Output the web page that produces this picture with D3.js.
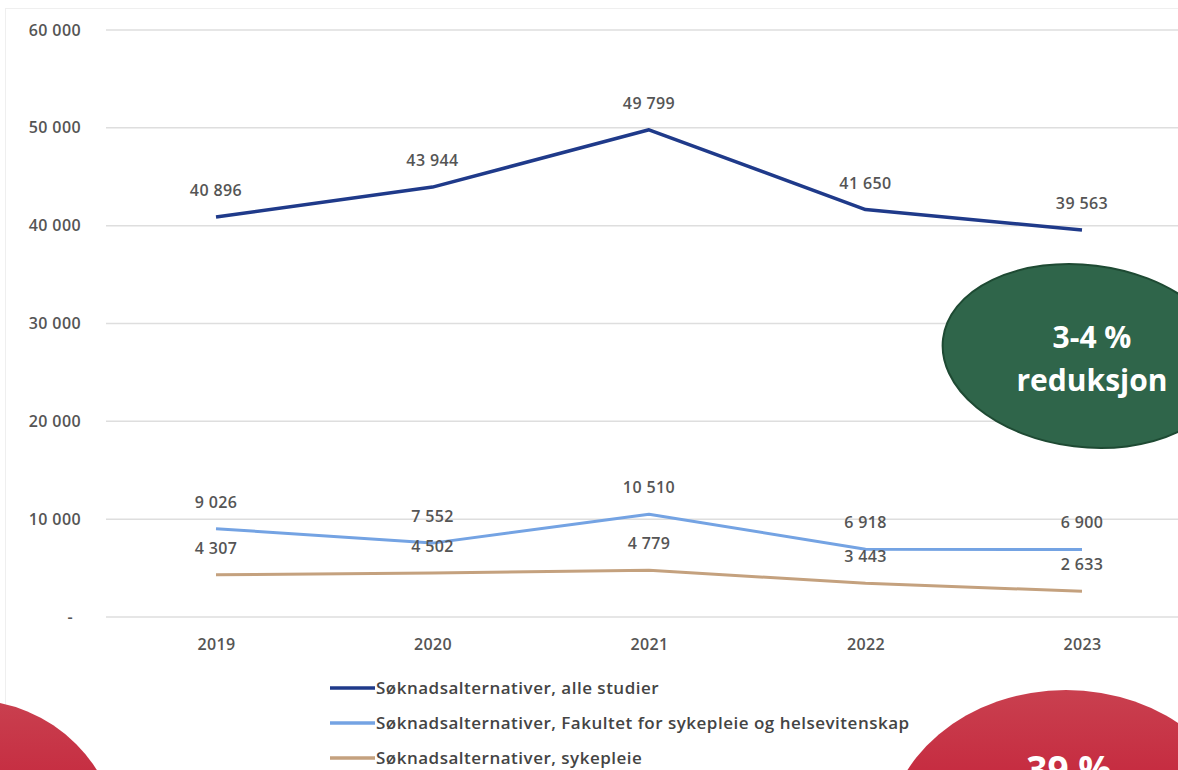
<!DOCTYPE html>
<html>
<head>
<meta charset="utf-8">
<script src="https://cdn.jsdelivr.net/npm/d3@7"></script>
<style>
  html, body { margin: 0; padding: 0; background: #fff; }
  svg { display: block; }
</style>
</head>
<body>
<svg id="chart" width="1178" height="770"></svg>
<script>
// Application counts per year
const years = ["2019", "2020", "2021", "2022", "2023"];
const alleStudier = [40896, 43944, 49799, 41650, 39563];
const fakultet = [9026, 7552, 10510, 6918, 6900];
const sykepleie = [4307, 4502, 4779, 3443, 2633];
const seriesNames = [
  "Søknadsalternativer, alle studier",
  "Søknadsalternativer, Fakultet for sykepleie og helsevitenskap",
  "Søknadsalternativer, sykepleie"
];
const seriesColors = ["#1f3a8a", "#74a3e3", "#c4a17e"];
const yTicks = [0, 10000, 20000, 30000, 40000, 50000, 60000];

const series = [alleStudier, fakultet, sykepleie].map((values, i) => ({
  name: seriesNames[i], color: seriesColors[i], values
}));

const svg = d3.select("#chart");
const font = "'Open Sans', 'Liberation Sans', sans-serif";
const textColor = "#555";

const x = d3.scalePoint().domain(years).range([216, 1082]);
const y = d3.scaleLinear().domain([0, 60000]).range([617, 30]);

const fmt = v => v === 0 ? "-" : d3.format(",")(v).replace(/,/g, " ");

function styleText(sel, size) {
  return sel.attr("font-family", font).attr("font-size", size).attr("font-weight", 600)
    .attr("letter-spacing", 0.4).attr("fill", textColor);
}

// faint chart frame
svg.append("rect").attr("x", 5.5).attr("y", 8.5).attr("width", 1200).attr("height", 800)
  .attr("fill", "none").attr("stroke", "#efefef");

// horizontal gridlines
svg.append("g").selectAll("line").data(yTicks).join("line")
  .attr("x1", 106).attr("x2", 1178)
  .attr("y1", d => y(d)).attr("y2", d => y(d))
  .attr("stroke", "#dedede").attr("stroke-width", 1.5);

// y axis labels
const yAxis = d3.axisLeft(y).tickValues(yTicks).tickFormat(fmt).tickSize(0).tickPadding(0);
const gy = svg.append("g").attr("transform", "translate(81,0)").call(yAxis);
gy.select(".domain").remove();
styleText(gy.selectAll("text"), 16);
gy.selectAll(".tick").filter(d => d === 0).select("text").attr("dx", -8);

// x axis labels
const xAxis = d3.axisBottom(x).tickSize(0).tickPadding(0);
const gx = svg.append("g").attr("transform", "translate(0,639)").call(xAxis);
gx.select(".domain").remove();
styleText(gx.selectAll("text"), 16);

// lines
const line = d3.line().x((d, i) => x(years[i])).y(d => y(d));
svg.append("g").selectAll("path").data(series).join("path")
  .attr("d", d => line(d.values))
  .attr("fill", "none")
  .attr("stroke", d => d.color)
  .attr("stroke-width", (d, i) => i === 0 ? 3.5 : 3)
  .attr("stroke-linejoin", "round");

// value labels
series.forEach(s => {
  styleText(svg.append("g").selectAll("text").data(s.values).join("text"), 16)
    .attr("x", (d, i) => x(years[i]))
    .attr("y", d => y(d) - 21)
    .attr("text-anchor", "middle")
    .text(fmt);
});

// legend
const legend = svg.append("g");
series.forEach((s, i) => {
  const ly = 688 + i * 35;
  legend.append("line").attr("x1", 330).attr("x2", 375).attr("y1", ly).attr("y2", ly)
    .attr("stroke", s.color).attr("stroke-width", 3.5);
  styleText(legend.append("text"), 17)
    .attr("x", 376).attr("y", ly + 6)
    .attr("fill", "#444").attr("letter-spacing", 0.5)
    .text(s.name);
});

// red gradient for the callout circles
const defs = svg.append("defs");
const grad = defs.append("linearGradient").attr("id", "redGrad")
  .attr("x1", 0).attr("y1", 0).attr("x2", 0).attr("y2", 1);
grad.append("stop").attr("offset", "0%").attr("stop-color", "#c9404f");
grad.append("stop").attr("offset", "60%").attr("stop-color", "#c2142f");
grad.append("stop").attr("offset", "100%").attr("stop-color", "#b80d28");

svg.append("circle").attr("cx", -30).attr("cy", 850).attr("r", 150)
  .attr("fill", "url(#redGrad)");
svg.append("ellipse").attr("cx", 1066).attr("cy", 842).attr("rx", 180).attr("ry", 152)
  .attr("fill", "url(#redGrad)");
svg.append("text").attr("x", 1069).attr("y", 783).attr("text-anchor", "middle")
  .attr("font-family", font).attr("font-size", 37).attr("font-weight", 700)
  .attr("fill", "#fff").text("39 %");

// green callout
svg.append("ellipse").attr("cx", 1085).attr("cy", 356).attr("rx", 143).attr("ry", 91)
  .attr("transform", "rotate(7,1085,356)")
  .attr("fill", "#2f654a").attr("stroke", "#1e4a33").attr("stroke-width", 2);
svg.append("text").attr("x", 1092).attr("y", 348).attr("text-anchor", "middle")
  .attr("font-family", font).attr("font-size", 30).attr("font-weight", 700)
  .attr("fill", "#fff").text("3-4 %");
svg.append("text").attr("x", 1092).attr("y", 391).attr("text-anchor", "middle")
  .attr("font-family", font).attr("font-size", 30).attr("font-weight", 700)
  .attr("fill", "#fff").text("reduksjon");
</script>
</body>
</html>
